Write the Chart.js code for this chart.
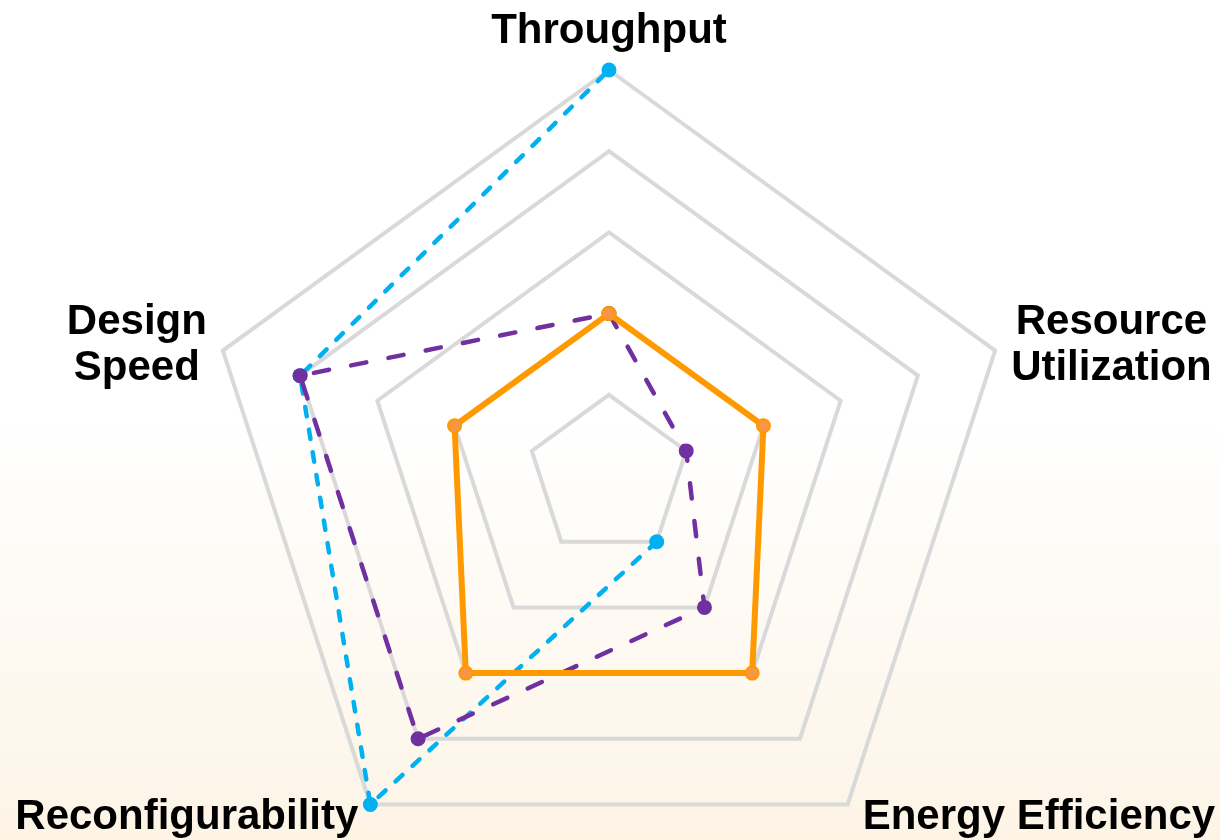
<!DOCTYPE html>
<html lang="en">
<head>
    <meta charset="UTF-8">
    <title>Accelerator Comparison</title>
    <script src="https://cdn.jsdelivr.net/npm/chart.js"></script>
    <style>
        html, body {
            margin: 0;
            padding: 0;
            width: 1220px;
            height: 840px;
            overflow: hidden;
        }

        body {
            background: linear-gradient(to bottom, #ffffff 0%, #ffffff 50%, #fdf4e6 100%);
            font-family: "Liberation Sans", Arial, sans-serif;
        }

        /* taller than the window on purpose: the bottom labels run off the page */
        .chart-box {
            position: absolute;
            left: 0;
            top: 0;
            width: 1220px;
            height: 882px;
        }
    </style>
</head>
<body>
    <div class="chart-box">
        <canvas id="radarChart"></canvas>
    </div>

    <script>
        // axes, clockwise from the top
        const categories = ['Throughput', ['Resource', 'Utilization'], 'Energy Efficiency', 'Reconfigurability', ['Design', 'Speed']];

        // values on a 0-5 scale (null = not reported)
        const solidSeries = [2, 2, 3, 3, 2];
        const purpleSeries = [2, 1, 2, 4, 4];
        const blueSeries = [5, null, 1, 5, 4];

        const tickValues = [1, 2, 3, 4, 5];

        // draws the axis names outside the outer polygon
        const axisLabels = {
            id: 'axisLabels',
            afterDraw(chart) {
                const scale = chart.scales.r;
                const ctx = chart.ctx;
                const lineH = 46;
                ctx.save();
                ctx.font = 'bold 42px "Liberation Sans", Arial, sans-serif';
                ctx.fillStyle = '#000000';
                ctx.textBaseline = 'alphabetic';
                ctx.textAlign = 'center';

                categories.forEach((label, i) => {
                    const lines = Array.isArray(label) ? label : [label];
                    const p = scale.getPointPosition(i, scale.drawingArea);
                    const dx = p.x - scale.xCenter;
                    const dy = p.y - scale.yCenter;
                    const blockW = Math.max(...lines.map(l => ctx.measureText(l).width));

                    let cx, firstBase;
                    if (Math.abs(dx) < 1) {
                        cx = p.x;
                        firstBase = p.y - 27 - (lines.length - 1) * lineH;
                    } else if (dy < 0) {
                        cx = dx > 0 ? p.x + 16 + blockW / 2 : p.x - 16 - blockW / 2;
                        firstBase = p.y - 17;
                    } else {
                        cx = dx > 0 ? p.x + 15 + blockW / 2 : p.x - 12 - blockW / 2;
                        firstBase = p.y + 25;
                    }
                    lines.forEach((l, k) => ctx.fillText(l, cx, firstBase + k * lineH));
                });
                ctx.restore();
            }
        };

        const ctx = document.getElementById('radarChart').getContext('2d');
        const radarChart = new Chart(ctx, {
            type: 'radar',
            data: {
                labels: categories,
                datasets: [
                    {
                        label: 'Solid',
                        data: solidSeries,
                        borderColor: '#ff9900',
                        borderWidth: 6,
                        fill: false,
                        pointRadius: 6.5,
                        pointBorderWidth: 2,
                        pointBackgroundColor: '#f79646',
                        pointBorderColor: '#ff9900'
                    },
                    {
                        label: 'Purple',
                        data: purpleSeries,
                        borderColor: '#7030a0',
                        borderWidth: 4.5,
                        borderDash: [15.5, 22.5],
                        borderCapStyle: 'round',
                        fill: false,
                        pointRadius: 7.5,
                        pointBorderWidth: 0,
                        pointBackgroundColor: '#7030a0'
                    },
                    {
                        label: 'Blue',
                        data: blueSeries,
                        borderColor: '#00b0f0',
                        borderWidth: 4.5,
                        borderDash: [9.5, 13.5],
                        borderCapStyle: 'round',
                        fill: false,
                        spanGaps: false,
                        pointRadius: 7.5,
                        pointBorderWidth: 0,
                        pointBackgroundColor: '#00b0f0'
                    }
                ]
            },
            options: {
                responsive: true,
                maintainAspectRatio: false,
                animation: false,
                layout: {
                    padding: { top: 70, right: 2, bottom: 0, left: 0 }
                },
                scales: {
                    r: {
                        min: 0,
                        max: tickValues[tickValues.length - 1],
                        ticks: {
                            display: false,
                            stepSize: tickValues[1] - tickValues[0]
                        },
                        grid: {
                            color: '#d9d9d9',
                            lineWidth: 4
                        },
                        angleLines: { display: false },
                        pointLabels: { display: false }
                    }
                },
                plugins: {
                    legend: { display: false },
                    tooltip: { enabled: false }
                }
            },
            plugins: [axisLabels]
        });
    </script>
</body>
</html>
